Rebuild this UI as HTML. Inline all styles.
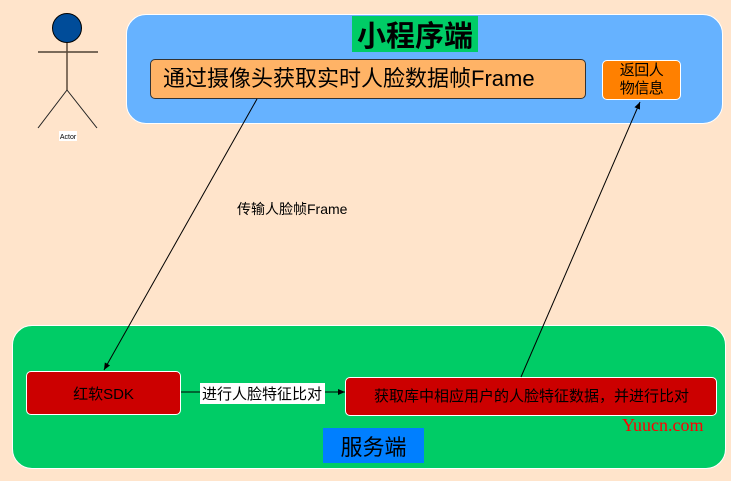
<!DOCTYPE html>
<html><head><meta charset="utf-8"><style>
html,body{margin:0;padding:0;}
body{width:731px;height:481px;background:#ffe4cb;position:relative;overflow:hidden;font-family:"Liberation Sans","Noto Sans CJK SC",sans-serif;}
.a{position:absolute;box-sizing:border-box;}
.t{display:flex;align-items:center;justify-content:center;}
</style></head><body>
<div class="a" style="left:126px;top:14px;width:597px;height:110px;background:#66b2ff;border:1px solid #fff;border-radius:20px"></div>
<div class="a t" style="left:352px;top:16px;width:126px;height:36px;background:#00cc66;font-size:29px;font-weight:bold;color:#000">小程序端</div>
<div class="a" style="left:150px;top:59px;width:436px;height:40px;background:#ffb366;border:1px solid #333;border-radius:5px;font-size:22px;line-height:38px;padding-left:12px;color:#000">通过摄像头获取实时人脸数据帧Frame</div>
<div class="a t" style="left:602px;top:60px;width:79px;height:40px;background:#ff8000;border:1px solid #fff;border-radius:5px;font-size:15px;line-height:18px;text-align:center;color:#000;letter-spacing:-0.5px">返回人<br>物信息</div>
<div class="a" style="left:12px;top:325px;width:714px;height:144px;background:#00cc66;border:1px solid #fff;border-radius:20px"></div>
<div class="a t" style="left:26px;top:371px;width:155px;height:44px;background:#cc0000;border:1px solid #fff;border-radius:5px;font-size:15px;color:#000">红软SDK</div>
<div class="a" style="left:345px;top:377px;width:372px;height:39px;background:#cc0000;border:1px solid #fff;border-radius:5px;font-size:15px;line-height:37px;padding-left:28px;color:#000">获取库中相应用户的人脸特征数据，并进行比对</div>
<div class="a t" style="left:323px;top:428px;width:101px;height:35px;background:#007fff;font-size:22px;color:#000">服务端</div>
<svg class="a" style="left:0;top:0" width="731" height="481">
<defs><marker id="m" markerWidth="8" markerHeight="8" refX="7" refY="4" orient="auto" markerUnits="userSpaceOnUse"><path d="M0,1 L7,4 L0,7 z" fill="#000"/></marker></defs>
<circle cx="67" cy="28" r="14.5" fill="#004c99" stroke="#000" stroke-width="1"/>
<line x1="38" y1="52" x2="98" y2="52" stroke="#7a6a5a" stroke-width="2"/>
<line x1="67" y1="43" x2="67" y2="90" stroke="#5a4a3a" stroke-width="1.5"/>
<line x1="67" y1="90" x2="38" y2="128" stroke="#222" stroke-width="1"/>
<line x1="67" y1="90" x2="97" y2="128" stroke="#222" stroke-width="1"/>
<rect x="59" y="131" width="18" height="10" fill="#fff"/>
<text x="68" y="139" font-size="7" text-anchor="middle" font-family="Liberation Sans">Actor</text>
<line x1="257" y1="99" x2="104" y2="370" stroke="#000" stroke-width="1" marker-end="url(#m)"/>
<line x1="521" y1="377" x2="640" y2="102" stroke="#000" stroke-width="1" marker-end="url(#m)"/>
<line x1="181" y1="392" x2="345" y2="392" stroke="#000" stroke-width="1" marker-end="url(#m)"/>
<rect x="200" y="383" width="125" height="21" fill="#fff"/>
<text x="262" y="399" font-size="15" text-anchor="middle" font-family="Liberation Sans,Noto Sans CJK SC,sans-serif">进行人脸特征比对</text>
<text x="237" y="214" font-size="14" font-family="Liberation Sans,Noto Sans CJK SC,sans-serif">传输人脸帧Frame</text>
<text x="622" y="431" font-size="18" fill="#ff0000" font-family="Liberation Serif,serif">Yuucn.com</text>
</svg>
</body></html>
